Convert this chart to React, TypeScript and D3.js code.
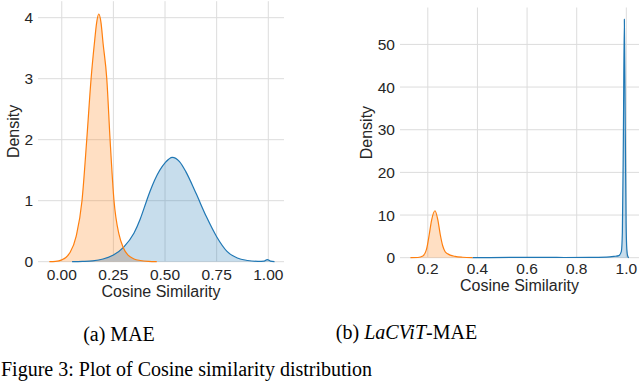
import React from 'react';
import * as d3 from 'd3';

// KDE curves: [cosine similarity, density]
const maeOrange: [number, number][] = [
  [-0.06, 0], [-0.03, 0.005], [0.0, 0.03], [0.02, 0.07], [0.04, 0.15], [0.07, 0.42],
  [0.098, 1.0], [0.121, 2.0], [0.142, 3.0], [0.158, 3.58], [0.169, 3.92], [0.179, 4.06],
  [0.19, 3.92], [0.2, 3.58], [0.218, 3.0], [0.234, 2.0], [0.253, 1.0], [0.277, 0.45],
  [0.298, 0.23], [0.32, 0.11], [0.35, 0.045], [0.38, 0.02], [0.42, 0.005], [0.46, 0],
];
const maeBlue: [number, number][] = [
  [0.05, 0], [0.1, 0.005], [0.15, 0.015], [0.2, 0.045], [0.25, 0.11], [0.3, 0.24],
  [0.35, 0.47], [0.38, 0.7], [0.411, 1.0], [0.427, 1.15], [0.45, 1.34], [0.5, 1.62],
  [0.535, 1.71], [0.57, 1.64], [0.6, 1.48], [0.65, 1.12], [0.7, 0.74], [0.75, 0.41],
  [0.8, 0.17], [0.85, 0.06], [0.9, 0.02], [0.95, 0.006], [0.98, 0.01], [0.995, 0.035],
  [1.01, 0.01], [1.03, 0],
];
const lacvitOrange: [number, number][] = [
  [0.13, 0], [0.16, 0.05], [0.18, 0.4], [0.195, 2.0], [0.206, 5.5], [0.215, 8.7],
  [0.229, 11.0], [0.24, 9.0], [0.25, 5.5], [0.26, 2.8], [0.27, 1.4], [0.28, 0.9],
  [0.29, 0.6], [0.31, 0.3], [0.34, 0.1], [0.38, 0],
];
const lacvitBlue: [number, number][] = [
  [0.38, 0], [0.45, 0.04], [0.55, 0.06], [0.65, 0.08], [0.75, 0.05], [0.85, 0.06],
  [0.92, 0.12], [0.95, 0.3], [0.97, 0.5], [0.98, 1.5], [0.984, 6], [0.988, 28],
  [0.992, 55.9], [0.996, 28], [0.999, 8], [1.002, 2], [1.006, 0.3], [1.01, 0],
];

const maeXTicks = [0, 0.25, 0.5, 0.75, 1.0];
const maeYTicks = [0, 1, 2, 3, 4];
const lacvitXTicks = [0.2, 0.4, 0.6, 0.8, 1.0];
const lacvitYTicks = [0, 10, 20, 30, 40, 50];

const BLUE = '#1f77b4';
const ORANGE = '#ff7f0e';
const SANS = '"Liberation Sans", Arial, Helvetica, sans-serif';
const SERIF = '"Liberation Serif", "Times New Roman", serif';

type PanelProps = {
  id: string;
  orange: [number, number][];
  blue: [number, number][];
  xDomain: [number, number];
  yMax: number;
  xTicks: number[];
  yTicks: number[];
  xFmt: (v: number) => string;
  left: number; right: number; top: number; bottom: number;
  xTickY: number; xLabelY: number; yLabelX: number;
};

const Panel = (p: PanelProps) => {
  const x = d3.scaleLinear().domain(p.xDomain).range([p.left, p.right]);
  const y = d3.scaleLinear().domain([0, p.yMax]).range([p.bottom, p.top]);
  const area = d3.area<[number, number]>()
    .x(d => x(d[0])).y0(y(0)).y1(d => y(d[1])).curve(d3.curveMonotoneX);
  const line = d3.line<[number, number]>()
    .x(d => x(d[0])).y(d => y(d[1])).curve(d3.curveMonotoneX);
  const midY = (p.top + p.bottom) / 2;

  return (
    <g>
      <defs>
        <clipPath id={p.id + '-clip'}>
          <path d={area(p.blue) || ''} />
        </clipPath>
      </defs>
      {p.xTicks.map(t => (
        <line key={'gx' + t} x1={x(t)} x2={x(t)} y1={p.top} y2={p.bottom} stroke="#dcdcdc" strokeWidth={1} />
      ))}
      {p.yTicks.map(t => (
        <line key={'gy' + t} x1={p.left} x2={p.right} y1={y(t)} y2={y(t)} stroke="#dcdcdc" strokeWidth={1} />
      ))}
      <path d={area(p.blue) || ''} fill={BLUE} fillOpacity={0.25} />
      <path d={area(p.orange) || ''} fill={ORANGE} fillOpacity={0.25} />
      <path d={area(p.orange) || ''} fill="#bebebe" clipPath={`url(#${p.id}-clip)`} />
      <path d={line(p.blue) || ''} fill="none" stroke={BLUE} strokeWidth={1.2} />
      <path d={line(p.orange) || ''} fill="none" stroke={ORANGE} strokeWidth={1.2} />
      {p.yTicks.map(t => (
        <text key={'ty' + t} x={p.left - 5} y={y(t)} textAnchor="end" dominantBaseline="central"
          fontFamily={SANS} fontSize={15.5} fill="#262626">{t}</text>
      ))}
      {p.xTicks.map(t => (
        <text key={'tx' + t} x={x(t)} y={p.xTickY} textAnchor="middle"
          fontFamily={SANS} fontSize={15.5} fill="#262626">{p.xFmt(t)}</text>
      ))}
      <text x={(p.left + p.right) / 2} y={p.xLabelY} textAnchor="middle"
        fontFamily={SANS} fontSize={16} fill="#262626">Cosine Similarity</text>
      <text transform={`translate(${p.yLabelX},${midY}) rotate(-90)`} textAnchor="middle"
        dominantBaseline="central" fontFamily={SANS} fontSize={16} fill="#262626">Density</text>
    </g>
  );
};

const App = () => {
  return (
    <svg width={640} height={381} style={{ position: 'absolute', left: 0, top: 0, background: '#fff' }}>
      <Panel id="mae" orange={maeOrange} blue={maeBlue} xDomain={[-0.115, 1.076]} yMax={4.27}
        xTicks={maeXTicks} yTicks={maeYTicks} xFmt={d3.format('.2f')}
        left={38} right={284} top={1.2} bottom={261.7}
        xTickY={280} xLabelY={296.5} yLabelX={13} />
      <Panel id="lacvit" orange={lacvitOrange} blue={lacvitBlue} xDomain={[0.088, 1.051]} yMax={58.65}
        xTicks={lacvitXTicks} yTicks={lacvitYTicks} xFmt={d3.format('.1f')}
        left={400} right={639} top={7.5} bottom={257.7}
        xTickY={273.5} xLabelY={290.5} yLabelX={366.7} />
      <text x={119} y={341} textAnchor="middle" fontFamily={SERIF} fontSize={20} fill="#000">(a) MAE</text>
      <text x={406.5} y={339} textAnchor="middle" fontFamily={SERIF} fontSize={20} fill="#000">
        (b) <tspan fontStyle="italic">LaCViT</tspan>-MAE
      </text>
      <text x={1} y={376} fontFamily={SERIF} fontSize={20} fill="#000">
        Figure 3: Plot of Cosine similarity distribution
      </text>
    </svg>
  );
};

export default App;
